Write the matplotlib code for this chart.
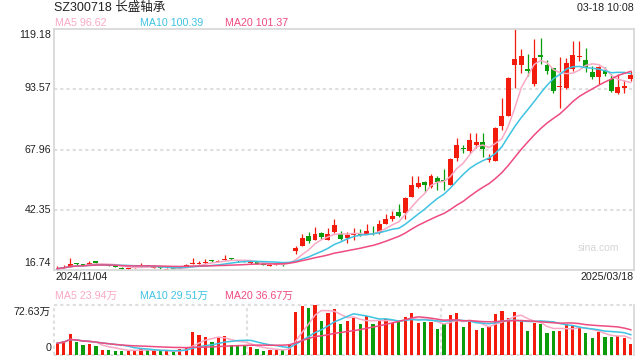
import numpy as np
import pandas as pd
import matplotlib
matplotlib.use("Agg")
import matplotlib.pyplot as plt

plt.rcParams['font.family'] = ['Liberation Sans', 'Noto Sans CJK SC']

# daily candles 2024/11/04 .. 2025/03/18
opens = [17.0, 17.5, 18.2, 19.6, 19.2, 19.0, 20.5, 18.9, 19.0, 18.5,
         17.7, 17.0, 17.6, 18.5, 18.7, 17.8, 18.0, 16.9, 17.5, 17.2,
         18.5, 19.2, 19.3, 19.6, 20.9, 20.2, 20.9, 21.7, 20.9, 20.7,
         19.6, 20.0, 19.4, 18.6, 19.0, 19.4, 22.1, 24.8, 27.0, 31.1,
         29.4, 32.4, 29.7, 32.9, 32.1, 30.4, 31.5, 31.9, 32.2, 32.3,
         32.5, 36.5, 38.3, 41.2, 40.8, 47.6, 52.2, 54.2, 52.2, 55.7,
         54.8, 53.0, 64.3, 68.4, 67.2, 69.7, 71.1, 63.4, 63.0, 77.9,
         82.2, 104.0, 104.0, 102.1, 95.7, 108.1, 103.7, 102.4, 94.7, 94.3,
         102.1, 107.1, 106.0, 101.0, 98.6, 101.4, 98.1, 92.0, 94.3, 97.8]
closes = [17.3, 18.0, 19.2, 19.2, 18.9, 19.6, 19.7, 19.2, 18.6, 18.0,
          17.0, 17.4, 18.0, 18.9, 18.4, 18.0, 17.6, 17.3, 17.0, 17.6,
          18.9, 19.6, 19.7, 20.2, 20.5, 20.6, 21.5, 21.3, 20.5, 20.4,
          20.0, 19.3, 18.9, 19.0, 19.4, 18.7, 22.1, 26.1, 30.2, 29.1,
          31.9, 30.8, 31.9, 35.8, 30.1, 31.5, 32.1, 31.7, 33.2, 32.1,
          36.5, 38.3, 39.6, 39.6, 47.2, 52.9, 53.7, 52.7, 56.7, 54.3,
          54.6, 64.0, 69.7, 68.1, 72.2, 71.1, 68.2, 64.4, 76.9, 82.0,
          98.3, 106.4, 107.5, 101.4, 106.8, 107.1, 101.4, 92.9, 95.0, 104.7,
          108.1, 107.7, 102.8, 98.6, 103.1, 100.0, 92.9, 94.6, 94.9, 99.7]
highs = [18.3, 19.0, 21.9, 19.9, 19.5, 20.4, 20.5, 19.4, 19.2, 18.7,
         17.9, 17.6, 18.2, 19.7, 18.9, 18.2, 18.1, 17.4, 17.6, 17.8,
         19.2, 21.9, 20.5, 21.3, 21.2, 21.2, 23.3, 21.9, 21.1, 20.9,
         20.3, 20.2, 19.6, 19.2, 19.6, 19.6, 22.1, 26.8, 32.2, 32.8,
         34.9, 32.8, 34.8, 38.4, 33.2, 32.7, 34.7, 34.1, 36.5, 35.6,
         37.9, 40.6, 41.8, 44.7, 47.6, 56.7, 56.7, 54.7, 57.6, 56.7,
         59.7, 64.5, 72.9, 69.8, 74.9, 74.9, 74.8, 66.1, 77.5, 89.7,
         98.8, 119.18, 110.6, 108.5, 115.1, 115.2, 106.0, 102.8, 107.1, 106.9,
         114.2, 114.2, 111.1, 103.5, 103.5, 103.1, 100.0, 100.0, 97.4, 101.4]
lows = [16.9, 17.4, 18.0, 18.8, 18.6, 18.9, 19.4, 18.8, 18.4, 17.9,
        16.8, 16.9, 17.5, 18.4, 18.3, 17.7, 17.2, 16.74, 16.9, 17.1,
        18.4, 19.1, 19.2, 19.5, 20.2, 20.0, 20.8, 21.1, 20.3, 20.2,
        19.5, 19.1, 18.7, 18.4, 18.9, 18.5, 22.1, 23.7, 27.0, 28.3,
        29.4, 30.1, 29.4, 32.6, 29.7, 28.3, 29.7, 31.1, 32.2, 31.5,
        32.2, 36.5, 37.5, 39.2, 38.6, 47.6, 51.7, 50.0, 51.4, 50.7,
        50.7, 53.0, 63.0, 66.5, 66.5, 68.7, 64.8, 62.7, 63.0, 76.1,
        82.2, 94.3, 100.3, 99.3, 95.0, 104.2, 100.0, 92.1, 85.7, 93.6,
        101.4, 105.7, 101.1, 97.8, 96.0, 99.3, 92.4, 91.7, 92.1, 97.1]
# volume in 万 shares
volumes = [17.2, 20.0, 30.4, 19.6, 14.7, 16.0, 13.7, 7.8, 7.8, 6.4,
           6.4, 6.4, 6.4, 9.3, 7.3, 5.4, 5.4, 5.4, 3.9, 9.3,
           12.2, 32.8, 28.4, 25.5, 19.6, 24.0, 27.0, 15.2, 15.2, 13.2,
           12.2, 9.3, 5.4, 6.9, 7.8, 7.3, 15.7, 62.0, 71.0, 68.0,
           72.6, 49.4, 61.0, 66.8, 45.0, 49.4, 53.7, 45.0, 56.6, 45.0,
           50.8, 52.3, 46.5, 49.4, 55.2, 61.0, 46.5, 47.9, 47.9, 37.8,
           45.0, 58.0, 61.0, 40.7, 47.9, 36.3, 39.2, 40.7, 59.5, 63.9,
           53.7, 62.4, 49.4, 34.8, 46.5, 45.0, 31.9, 34.8, 34.8, 45.0,
           43.6, 40.7, 31.9, 24.7, 33.4, 26.1, 26.1, 27.6, 24.7, 16.0]

price_ticks = [119.18, 93.57, 67.96, 42.35, 16.74]
vol_top = 72.63
ma_labels = ["MA5 96.62", "MA10 100.39", "MA20 101.37"]
vol_ma_labels = ["MA5 23.94万", "MA10 29.51万", "MA20 36.67万"]

RED = "#f31b0c"
GREEN = "#0a9c0a"
MA_COLORS = ["#f8a9c6", "#3fc3e2", "#ee4b80"]
FRAME = "#d5d5d5"
GRID = "#dedede"

W, H = 640, 360


def fx(px):
    return px / W


def fy(py):
    return 1 - py / H


def main():
    o = np.array(opens)
    c = np.array(closes)
    x = np.arange(len(c))
    colors = np.where(c >= o, RED, GREEN)

    fig = plt.figure(figsize=(6.4, 3.6), dpi=100)
    ax = fig.add_axes([fx(54), fy(270), 580 / W, 241 / H])
    vax = fig.add_axes([fx(54), fy(355), 580 / W, 50 / H])

    # price panel
    for v in price_ticks[1:-1]:
        ax.axhline(v, color=GRID, lw=1.5, ls=(0, (1.5, 1.5)), zorder=0)
    ax.vlines(x, lows, highs, colors=colors, lw=0.9, zorder=2)
    ax.bar(x, np.maximum(np.abs(c - o), 0.3), bottom=np.minimum(o, c),
           width=0.76, color=colors, linewidth=0, zorder=2)
    s = pd.Series(c)
    for n, col in zip([5, 10, 20], MA_COLORS):
        ax.plot(x, s.rolling(n, min_periods=1).mean(), color=col, lw=1.1, zorder=3)
    ax.set_xlim(-0.5, len(c) - 0.5)
    ax.set_ylim(price_ticks[-1], price_ticks[0])
    ax.set_xticks([])
    ax.set_yticks([])
    for sp in ax.spines.values():
        sp.set_color(FRAME)
        sp.set_linewidth(1.2)
    ax.text(0.975, 0.09, "sina.com", transform=ax.transAxes, ha="right",
            va="center", fontsize=7.5, color="#d6d6d6")

    # volume panel
    vax.bar(x, volumes, width=0.5, color=colors, linewidth=0, zorder=2)
    vs = pd.Series(volumes)
    for n, col in zip([5, 10, 20], MA_COLORS):
        vax.plot(x, vs.rolling(n, min_periods=1).mean(), color=col, lw=1.1, zorder=3)
    vax.set_xlim(-0.5, len(c) - 0.5)
    vax.set_ylim(0, vol_top)
    vax.set_xticks([])
    vax.set_yticks([])
    for side in ["top", "bottom", "left"]:
        vax.spines[side].set_visible(False)
    vax.spines["right"].set_color(FRAME)
    vax.spines["right"].set_linewidth(1.2)
    dot = dict(color=GRID, lw=1.5, ls=(0, (1.5, 1.5)), clip_on=False, zorder=0)
    vax.axhline(vol_top, **dot)
    vax.axhline(0, **dot)
    vax.axvline(-0.5, **dot)
    vax.axvline(-0.5 + len(c) / 3, **dot)
    vax.axvline(-0.5 + 2 * len(c) / 3, **dot)

    # texts
    fs = 7.7
    fig.text(fx(54), fy(7.5), "SZ300718 长盛轴承", fontsize=9, color="#222222", va="center")
    fig.text(fx(634), fy(8), "03-18 10:08", fontsize=fs, color="#222222", va="center", ha="right")
    for px, lab, col in zip([55, 140.5, 225], ma_labels, MA_COLORS):
        fig.text(fx(px), fy(23.5), lab, fontsize=fs, color=col, va="center")
    for px, lab, col in zip([55, 140.5, 225], vol_ma_labels, MA_COLORS):
        fig.text(fx(px), fy(295.5), lab, fontsize=fs, color=col, va="center")
    tick_y = [35, 88, 150, 210, 263]
    for py, v in zip(tick_y, price_ticks):
        fig.text(fx(51), fy(py), f"{v:.2f}", fontsize=fs, color="#222222", va="center", ha="right")
    fig.text(fx(55), fy(277.5), "2024/11/04", fontsize=fs, color="#222222", va="center")
    fig.text(fx(634), fy(277.5), "2025/03/18", fontsize=fs, color="#222222", va="center", ha="right")
    fig.text(fx(51), fy(311.5), f"{vol_top:.2f}万", fontsize=fs, color="#222222", va="center", ha="right")
    fig.text(fx(51), fy(348), "0", fontsize=fs, color="#222222", va="center", ha="right")

    fig.savefig("out.png", dpi=100, facecolor="white")


if __name__ == "__main__":
    main()
